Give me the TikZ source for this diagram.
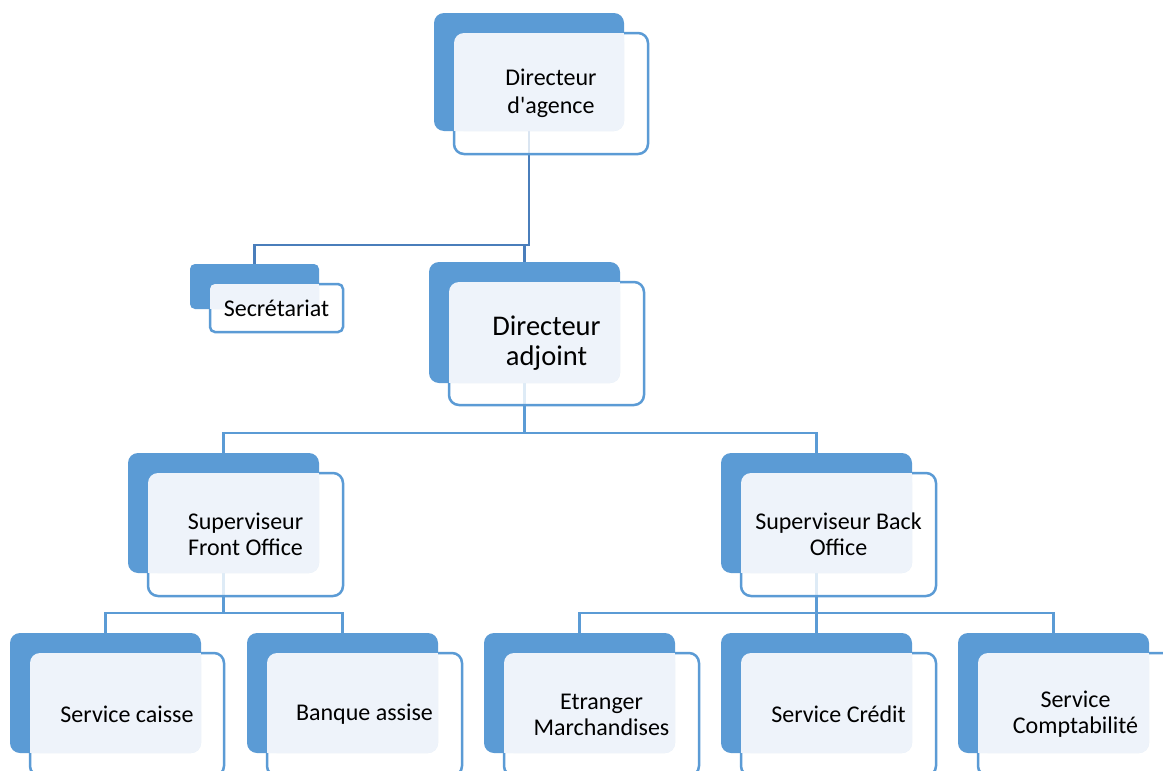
\documentclass[tikz,border=0pt]{standalone}
\usepackage{fontspec}
\setmainfont{Carlito}
\usetikzlibrary{calc}
\definecolor{accent}{HTML}{5B9BD5}
\definecolor{lightc}{HTML}{EEF3FA}
\definecolor{linec}{HTML}{4A7EBB}
\pgfdeclarelayer{bg}
\pgfsetlayers{bg,main}
\newcommand\ufont{\fontsize{24}{26}\selectfont}
% #1 name, #2-#5 back box corners, #6 #7 front box SE corner, #8 radius, #9 text
\newcommand\orgunit[9]{%
  \fill[accent, rounded corners=#8pt] (#2,#3) rectangle (#4,#5);
  \draw[frontbox, rounded corners=#8pt] (#2+20,#3+20) rectangle (#6,#7);
  \fill[lightc, rounded corners=#8pt] (#2+20,#3+20) rectangle (#4,#5);
  \fill[lightc] (#4-#8,#3+20) rectangle (#4,#3+20+#8);
  \fill[lightc] (#2+20,#5-#8) rectangle (#2+20+#8,#5);
  \node[txt] (#1) at ({(#2+20+#6)/2},{(#3+20+#7)/2}) {#9};
  \coordinate (#1-top) at ({(#2+#4)/2},#3);
  \coordinate (#1-bot) at ({(#2+#4)/2},#5);
}
\tikzset{
  frontbox/.style={draw=accent, line width=2.5pt, fill=white, fill opacity=0.8},
  txt/.style={align=center, inner sep=0pt, text=black, font=\ufont},
  conn/.style={draw=accent, line width=2.5pt},
  topconn/.style={draw=linec, line width=2.5pt},
}
\begin{document}
\begin{tikzpicture}[x=1pt,y=-1pt]
\useasboundingbox (0,0) rectangle (1163,771);
\begin{pgfonlayer}{bg}
\fill[white] (0,0) rectangle (1163,771);
\end{pgfonlayer}
\clip (0,0) rectangle (1163,771);
\renewcommand\ufont{\fontsize{24}{28}\selectfont}
\orgunit{dag}{434}{13}{624}{131}{648}{154}{10}{Directeur\\d\textquotesingle agence}
\renewcommand\ufont{\fontsize{24}{26}\selectfont}
\orgunit{sec}{190}{264}{319}{309}{343}{332}{5}{Secrétariat}
\renewcommand\ufont{\fontsize{28.5}{30}\selectfont}
\orgunit{adj}{429}{262}{620}{383}{644}{405}{10}{Directeur\\adjoint}
\renewcommand\ufont{\fontsize{24}{26}\selectfont}
\orgunit{fo}{128}{453}{319}{573}{343}{596}{10}{Superviseur\\Front Office}
\orgunit{bo}{721}{453}{912}{573}{936}{596}{10}{Superviseur Back\\Office}
\orgunit{cai}{10}{633}{201}{753}{224}{776}{10}{Service caisse}
\orgunit{ban}{247}{633}{438}{753}{462}{776}{10}{Banque assise}
\orgunit{etr}{484}{633}{675}{753}{699}{776}{10}{Etranger\\Marchandises}
\orgunit{cre}{721}{633}{912}{753}{936}{776}{10}{Service Crédit}
\orgunit{com}{958}{633}{1149}{753}{1173}{776}{10}{Service\\Comptabilité}
\begin{pgfonlayer}{bg}
\draw[topconn] (dag-bot) -- ++(0,114) coordinate (b1) -| (sec-top);
\draw[topconn] (b1) -| (adj-top);
\draw[conn] (adj-bot) -- ++(0,50) coordinate (b2) -| (fo-top);
\draw[conn] (b2) -| (bo-top);
\draw[conn] (fo-bot) -- ++(0,40) coordinate (b3) -| (cai-top);
\draw[conn] (b3) -| (ban-top);
\draw[conn] (bo-bot) -- ++(0,40) coordinate (b4) -| (etr-top);
\draw[conn] (b4) -| (cre-top);
\draw[conn] (b4) -| (com-top);
\end{pgfonlayer}
\end{tikzpicture}
\end{document}
